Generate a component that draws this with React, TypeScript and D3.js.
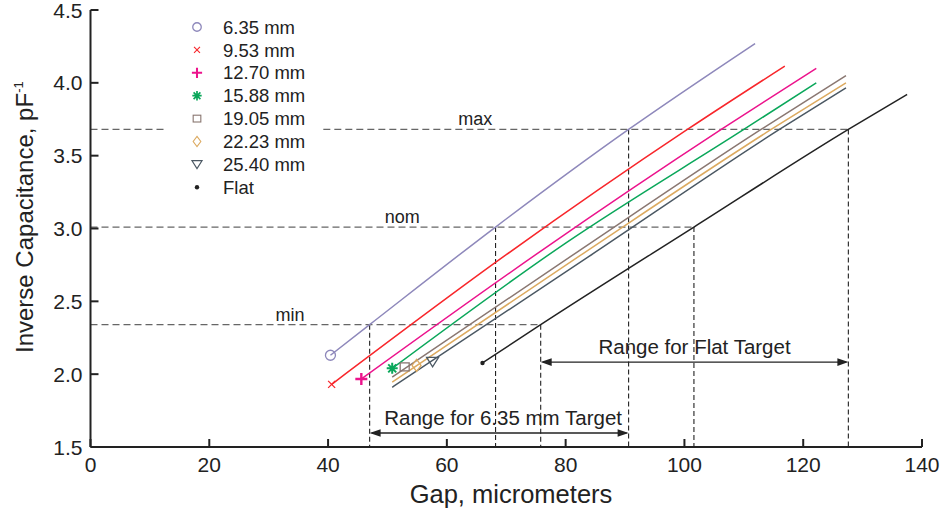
import React from "react";
import * as d3 from "d3";

const W = 944;
const H = 509;
const margin = { top: 10, right: 22, bottom: 62, left: 90.5 };
const innerW = W - margin.left - margin.right;
const innerH = H - margin.top - margin.bottom;

const xTicks = [0, 20, 40, 60, 80, 100, 120, 140];
const yTicks = [1.5, 2.0, 2.5, 3.0, 3.5, 4.0, 4.5];

const seriesNames = ["6.35 mm", "9.53 mm", "12.70 mm", "15.88 mm", "19.05 mm", "22.23 mm", "25.40 mm", "Flat"];
const seriesColors = ["#8e88bb", "#f8262b", "#ec138c", "#0aa75a", "#8a7771", "#dcaa60", "#4b5863", "#222222"];

// gap (micrometers) / inverse capacitance (pF^-1)
const gap635 = [40.4, 47.0, 68.2, 90.6, 111.9];
const cap635 = [2.13, 2.34, 3.01, 3.68, 4.27];
const gap953 = [40.6, 70.0, 100.5, 116.9];
const cap953 = [1.93, 2.82, 3.68, 4.115];
const gap1270 = [45.6, 76.0, 106.2, 122.2];
const cap1270 = [1.967, 2.85, 3.68, 4.1];
const gap1588 = [50.8, 80.0, 110.0, 122.2];
const cap1588 = [2.04, 2.9, 3.68, 4.0];
const gap1905 = [50.8, 82.0, 112.9, 127.2];
const cap1905 = [1.98, 2.84, 3.68, 4.05];
const gap2223 = [50.8, 83.0, 114.6, 127.2];
const cap2223 = [1.946, 2.83, 3.68, 4.0];
const gap2540 = [50.8, 84.0, 116.0, 127.2];
const cap2540 = [1.91, 2.81, 3.68, 3.966];
const gapFlat = [66.0, 75.8, 101.6, 127.6, 137.5];
const capFlat = [2.077, 2.34, 3.01, 3.68, 3.92];

const seriesGaps = [gap635, gap953, gap1270, gap1588, gap1905, gap2223, gap2540, gapFlat];
const seriesCaps = [cap635, cap953, cap1270, cap1588, cap1905, cap2223, cap2540, capFlat];

// the single plotted symbol on each curve
const markerGap = [40.4, 40.6, 45.6, 50.8, 52.9, 54.9, 57.6, 66.0];
const markerCap = [2.13, 1.93, 1.967, 2.04, 2.05, 2.06, 2.085, 2.077];

const levelNames = ["min", "nom", "max"];
const levelCap = [2.34, 3.01, 3.68];
const levelLabelGap = [33.6, 52.5, 64.8];
const target635Gap = [47.0, 68.2, 90.6];
const targetFlatGap = [75.8, 101.6, 127.6];
const legendBreak = [12.6, 39.2];

const rangeLabels = ["Range for 6.35 mm Target", "Range for Flat Target"];
const rangeCap = [1.596, 2.083];

const x = d3.scaleLinear().domain([0, 140]).range([0, innerW]);
const y = d3.scaleLinear().domain([1.5, 4.5]).range([innerH, 0]);

const font = "'Liberation Sans', Arial, Helvetica, sans-serif";

const Marker = ({ i, cx, cy, s = 1 }: { i: number; cx: number; cy: number; s?: number }) => {
  const c = seriesColors[i];
  const t = `translate(${cx},${cy}) scale(${s})`;
  if (i === 0) return <circle cx={cx} cy={cy} r={5 * s} fill="none" stroke={c} strokeWidth={1.3} />;
  if (i === 1)
    return <path transform={t} d="M-3.5,-3.5L3.5,3.5M-3.5,3.5L3.5,-3.5" stroke={c} strokeWidth={1.3} />;
  if (i === 2) return <path transform={t} d="M-6,0H6M0,-6V6" stroke={c} strokeWidth={2.4} />;
  if (i === 3)
    return (
      <path transform={t} d="M-5.5,0H5.5M0,-5.5V5.5M-4,-4L4,4M-4,4L4,-4" stroke={c} strokeWidth={2} />
    );
  if (i === 4) return <rect transform={t} x={-4.5} y={-4} width={9} height={8} fill="none" stroke={c} strokeWidth={1.3} />;
  if (i === 5) return <path transform={t} d="M0,-6L4.5,0L0,6L-4.5,0Z" fill="none" stroke={c} strokeWidth={1.3} />;
  if (i === 6) return <path transform={t} d="M-6,-4.5H6L0,5Z" fill="none" stroke={c} strokeWidth={1.3} />;
  return <circle cx={cx} cy={cy} r={2.2} fill={c} />;
};

const Arrow = ({ x1, x2, yy }: { x1: number; x2: number; yy: number }) => (
  <g>
    <line x1={x1 + 2} x2={x2 - 2} y1={yy} y2={yy} stroke="#222" strokeWidth={1.3} />
    <path d={`M${x1},${yy}L${x1 + 11},${yy - 3.8}L${x1 + 11},${yy + 3.8}Z`} fill="#222" />
    <path d={`M${x2},${yy}L${x2 - 11},${yy - 3.8}L${x2 - 11},${yy + 3.8}Z`} fill="#222" />
  </g>
);

export default function App() {
  const lineGen = d3
    .line<[number, number]>()
    .x((d) => x(d[0]))
    .y((d) => y(d[1]))
    .curve(d3.curveMonotoneX);

  return (
    <svg
      width={W}
      height={H}
      style={{ position: "absolute", left: 0, top: 0, background: "#fff" }}
      fontFamily={font}
    >
      <g transform={`translate(${margin.left},${margin.top})`}>
        {/* horizontal reference levels */}
        {levelCap.map((v, k) =>
          k === 2 ? (
            <g key={k}>
              <line x1={0} x2={x(legendBreak[0])} y1={y(v)} y2={y(v)} stroke="#666" strokeWidth={1.2} strokeDasharray="7,4" />
              <line x1={x(legendBreak[1])} x2={x(targetFlatGap[k])} y1={y(v)} y2={y(v)} stroke="#666" strokeWidth={1.2} strokeDasharray="7,4" />
            </g>
          ) : (
            <line key={k} x1={0} x2={x(targetFlatGap[k])} y1={y(v)} y2={y(v)} stroke="#666" strokeWidth={1.2} strokeDasharray="7,4" />
          )
        )}
        {levelNames.map((n, k) => (
          <text key={n} x={x(levelLabelGap[k])} y={y(levelCap[k]) - 4} textAnchor="middle" fontSize={18} fill="#222">
            {n}
          </text>
        ))}
        {/* vertical drop lines */}
        {[target635Gap, targetFlatGap].map((gs, j) =>
          gs.map((g, k) => (
            <line
              key={`${j}-${k}`}
              x1={x(g)}
              x2={x(g)}
              y1={y(levelCap[k])}
              y2={innerH}
              stroke="#222"
              strokeWidth={1.1}
              strokeDasharray="5,3"
            />
          ))
        )}
        {/* curves */}
        {seriesGaps.map((gs, i) => (
          <path
            key={i}
            d={lineGen(gs.map((g, k) => [g, seriesCaps[i][k]] as [number, number])) || ""}
            fill="none"
            stroke={seriesColors[i]}
            strokeWidth={1.5}
          />
        ))}
        {markerGap.map((g, i) => (
          <Marker key={i} i={i} cx={x(g)} cy={y(markerCap[i])} />
        ))}
        {/* range arrows */}
        {[target635Gap, targetFlatGap].map((gs, j) => (
          <g key={j}>
            <Arrow x1={x(gs[0])} x2={x(gs[2])} yy={y(rangeCap[j])} />
            <text
              x={(x(gs[0]) + x(gs[2])) / 2 + (j === 0 ? 4 : 0)}
              y={y(rangeCap[j]) - 8}
              textAnchor="middle"
              fontSize={20.5}
              fill="#222"
            >
              {rangeLabels[j]}
            </text>
          </g>
        ))}
        {/* axes */}
        <line x1={0} x2={0} y1={0} y2={innerH} stroke="#222" strokeWidth={2} />
        <line x1={0} x2={innerW} y1={innerH} y2={innerH} stroke="#222" strokeWidth={2} />
        {yTicks.map((t) => (
          <g key={t}>
            <line x1={0} x2={8} y1={y(t)} y2={y(t)} stroke="#222" strokeWidth={2} />
            <text x={-8} y={y(t)} dy="0.36em" textAnchor="end" fontSize={21} fill="#222">
              {d3.format(".1f")(t)}
            </text>
          </g>
        ))}
        {xTicks.map((t) => (
          <g key={t}>
            <line x1={x(t)} x2={x(t)} y1={innerH} y2={innerH - 8} stroke="#222" strokeWidth={2} />
            <text x={x(t)} y={innerH + 25} textAnchor="middle" fontSize={21} fill="#222">
              {t}
            </text>
          </g>
        ))}
        <text x={511 - margin.left} y={innerH + 56} textAnchor="middle" fontSize={25.5} fill="#222">
          Gap, micrometers
        </text>
        <text transform={`translate(${33 - margin.left},${353 - margin.top}) rotate(-90)`} fontSize={24} fill="#222">
          Inverse Capacitance, pF
          <tspan fontSize={13} dy={-10}>
            -1
          </tspan>
        </text>
      </g>
      {/* legend */}
      <g>
        {seriesNames.map((n, i) => (
          <g key={n} transform={`translate(197,${27 + i * 22.9})`}>
            <Marker i={i} cx={0} cy={0} s={0.85} />
            <text x={26} y={0} dy="0.36em" fontSize={18.5} fill="#222">
              {n}
            </text>
          </g>
        ))}
      </g>
    </svg>
  );
}
